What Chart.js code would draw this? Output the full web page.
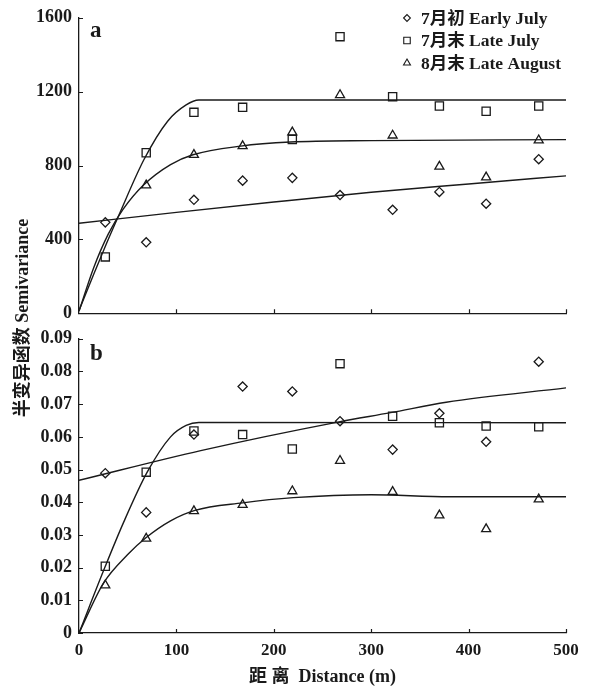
<!DOCTYPE html>
<html>
<head>
<meta charset="utf-8">
<script src="https://cdn.jsdelivr.net/npm/chart.js"></script>
<style>
  html, body { margin: 0; padding: 0; background: #fff; }
  #wrap { position: relative; width: 593px; height: 691px; overflow: hidden; }
  .panel { position: absolute; left: 0; width: 593px; }
  #topBox { top: 0; height: 331px; }
  #botBox { top: 321px; height: 370px; }
  .tag { position: absolute; font: bold 23px 'Liberation Serif', serif; color: #1a1a1a; }
  #yTitle {
    position: absolute; left: 20px; top: 318px; width: 260px; text-align: center;
    transform: translate(-50%, -50%) rotate(-90deg);
    font: bold 18px 'Liberation Serif', 'Noto Sans CJK SC', serif; color: #1a1a1a; white-space: nowrap;
  }
</style>
</head>
<body>
<div id="wrap">
  <div class="panel" id="topBox"><canvas id="topChart"></canvas></div>
  <div class="panel" id="botBox"><canvas id="botChart"></canvas></div>
  <div class="tag" style="left:90px; top:17px;">a</div>
  <div class="tag" style="left:90px; top:340px;">b</div>
  <div id="yTitle">半变异函数 Semivariance</div>
</div>
<script>
// ── Data ──
const INK = '#1a1a1a';
const FONT = "'Liberation Serif', 'Noto Sans CJK SC', serif";

const seriesNames = ['7月初 Early July', '7月末 Late July', '8月末 Late August'];
const lagDist = [27, 69, 118, 168, 219, 268, 322, 370, 418, 472];

// panel a
const aEarly  = [492, 384, 614, 718, 733, 640, 560, 657, 593, 834];
const aLate   = [305, 869, 1088, 1115, 941, 1498, 1173, 1122, 1094, 1122];
const aAug    = [null, 693, 858, 905, 980, 1182, 963, 794, 736, 937];
const aEarlyFitX = [0, 100, 200, 300, 400, 500];
const aEarlyFitY = [487, 546, 602, 655, 700, 744];
const aLateFitX  = [0, 15, 28, 40, 67, 91, 110, 123, 500];
const aLateFitY  = [15, 210, 375, 520, 835, 1040, 1128, 1155, 1155];
const aAugFitX   = [0, 15, 30, 45, 66, 94, 117, 166, 217, 300, 500];
const aAugFitY   = [10, 245, 428, 561, 693, 805, 858, 905, 927, 935, 940];

// panel b
const bEarly  = [0.0489, 0.0369, 0.0607, 0.0754, 0.0739, 0.0648, 0.0561, 0.0672, 0.0585, 0.0830];
const bLate   = [0.0204, 0.0492, 0.0618, 0.0607, 0.0563, 0.0824, 0.0663, 0.0643, 0.0633, 0.0631];
const bAug    = [0.0146, 0.0289, 0.0373, 0.0392, 0.0434, 0.0527, 0.0432, 0.0360, 0.0318, 0.0409];
const bEarlyFitX = [0, 125, 267, 320, 377, 500];
const bEarlyFitY = [0.0467, 0.0558, 0.0646, 0.0674, 0.0706, 0.0750];
const bLateFitX  = [0, 27, 46, 70, 94, 110, 123, 500];
const bLateFitY  = [0, 0.0204, 0.0340, 0.0492, 0.0600, 0.0635, 0.0644, 0.0643];
const bAugFitX   = [0, 25, 50, 69, 94, 119, 168, 220, 300, 380, 500];
const bAugFitY   = [0, 0.0152, 0.0240, 0.0292, 0.0343, 0.0375, 0.0398, 0.0414, 0.0423, 0.0417, 0.0417];

const xTicks = [0, 100, 200, 300, 400, 500];

const markerStyles = ['rectRot', 'rect', 'triangle'];
const markerRadius = [4.6, 5.8, 5.2];

function toPts(xs, ys) {
    return xs.map((x, i) => ({ x: x, y: ys[i] })).filter(p => p.y !== null);
}

function pointSet(i, ys) {
    return {
        label: seriesNames[i], data: toPts(lagDist, ys), showLine: false,
        pointStyle: markerStyles[i], pointRadius: markerRadius[i], pointHoverRadius: markerRadius[i],
        borderColor: INK, backgroundColor: 'rgba(0,0,0,0)', pointBorderWidth: 1.3
    };
}

function fitSet(xs, ys) {
    return {
        label: 'fit', data: toPts(xs, ys), showLine: true, pointRadius: 0,
        borderColor: INK, borderWidth: 1.4, cubicInterpolationMode: 'monotone', fill: false
    };
}

// ── inward tick marks ──
const inwardTicks = {
    id: 'inwardTicks',
    afterDraw(chart) {
        const { ctx, scales: { x, y } } = chart;
        ctx.save();
        ctx.strokeStyle = INK; ctx.lineWidth = 1.2;
        ctx.beginPath();
        xTicks.forEach(v => {
            if (v === 0) return;
            const px = Math.round(x.getPixelForValue(v)) + 0.5;
            ctx.moveTo(px, x.top); ctx.lineTo(px, x.top - 4);
        });
        y.ticks.forEach(t => {
            const py = Math.round(y.getPixelForValue(t.value)) + 0.5;
            ctx.moveTo(y.right, py); ctx.lineTo(y.right + 4, py);
        });
        ctx.stroke();
        ctx.restore();
    }
};

// ── legend drawn in panel a ──
function drawMarker(ctx, style, r, cx, cy) {
    ctx.beginPath();
    if (style === 'rectRot') {
        ctx.moveTo(cx - r, cy); ctx.lineTo(cx, cy - r); ctx.lineTo(cx + r, cy); ctx.lineTo(cx, cy + r);
    } else if (style === 'rect') {
        const s = r * Math.SQRT1_2;
        ctx.rect(cx - s, cy - s, 2 * s, 2 * s);
    } else {
        ctx.moveTo(cx, cy - r);
        ctx.lineTo(cx + r * 0.866, cy + r * 0.5);
        ctx.lineTo(cx - r * 0.866, cy + r * 0.5);
    }
    ctx.closePath();
    ctx.stroke();
}

const legendA = {
    id: 'legendA',
    afterDraw(chart) {
        const ctx = chart.ctx;
        ctx.save();
        ctx.strokeStyle = INK; ctx.fillStyle = INK; ctx.lineWidth = 1.1;
        ctx.font = 'bold 17.5px ' + FONT;
        ctx.textBaseline = 'middle';
        seriesNames.forEach((name, i) => {
            const cy = 18 + i * 22.5;
            drawMarker(ctx, markerStyles[i], markerRadius[i] - 1.2, 407, cy);
            ctx.fillText(name, 421, cy + 1);
        });
        ctx.restore();
    }
};

function baseOptions(yMax, yStep, showX, xHeight, pad, yFmt) {
    return {
        responsive: true, maintainAspectRatio: false, animation: false,
        layout: { padding: pad },
        plugins: { legend: { display: false }, tooltip: { enabled: false } },
        scales: {
            x: {
                type: 'linear', min: 0, max: 500,
                afterBuildTicks: s => { s.ticks = xTicks.map(v => ({ value: v })); },
                afterFit: s => { s.height = xHeight; },
                grid: { display: false, drawTicks: false },
                border: { display: true, color: INK, width: 1.3 },
                ticks: { display: showX, padding: 7, color: INK, font: { family: FONT, size: 17, weight: 'bold' } },
                title: {
                    display: showX, text: '距 离  Distance (m)', color: INK,
                    font: { family: FONT, size: 18, weight: 'bold' }, padding: { top: 6, bottom: 3 }
                }
            },
            y: {
                min: 0, max: yMax,
                ticks: { stepSize: yStep, padding: 7, color: INK, callback: yFmt,
                         font: { family: FONT, size: 18, weight: 'bold' } },
                afterFit: s => { s.width = 79; },
                grid: { display: false, drawTicks: false },
                border: { display: true, color: INK, width: 1.3 }
            }
        }
    };
}

new Chart(document.getElementById('topChart'), {
    type: 'scatter',
    data: { datasets: [
        fitSet(aEarlyFitX, aEarlyFitY), fitSet(aLateFitX, aLateFitY), fitSet(aAugFitX, aAugFitY),
        pointSet(0, aEarly), pointSet(1, aLate), pointSet(2, aAug)
    ] },
    options: baseOptions(1600, 400, false, 0, { left: 0, right: 27, top: 14, bottom: 13 }, v => v),
    plugins: [inwardTicks, legendA]
});

new Chart(document.getElementById('botChart'), {
    type: 'scatter',
    data: { datasets: [
        fitSet(bEarlyFitX, bEarlyFitY), fitSet(bLateFitX, bLateFitY), fitSet(bAugFitX, bAugFitY),
        pointSet(0, bEarly), pointSet(1, bLate), pointSet(2, bAug)
    ] },
    options: baseOptions(0.09, 0.01, true, 58, { left: 0, right: 27, top: 12, bottom: 0 },
                         v => v === 0 ? '0' : v.toFixed(2)),
    plugins: [inwardTicks]
});
</script>
</body>
</html>
